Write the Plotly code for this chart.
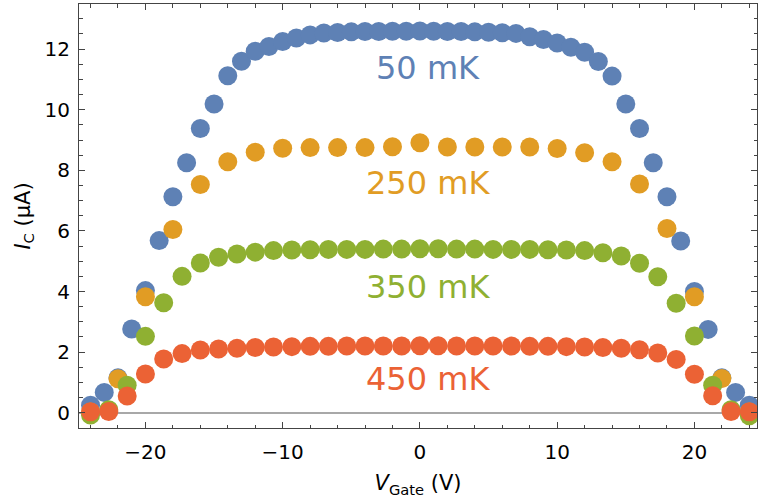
import plotly.graph_objects as go

# Gate-voltage sweeps of the critical current at four temperatures
v_50mk = [-24, -23, -22, -21, -20, -19, -18, -17, -16, -15, -14, -13, -12, -11, -10,
          -9, -8, -7, -6, -5, -4, -3, -2, -1, 0, 1, 2, 3, 4, 5, 6, 7, 8, 9, 10,
          11, 12, 13, 14, 15, 16, 17, 18, 19, 20, 21, 22, 23, 24]
ic_50mk = [0.25, 0.67, 1.15, 2.76, 4.03, 5.68, 7.13, 8.25, 9.38, 10.19, 11.12, 11.6,
           11.93, 12.09, 12.25, 12.37, 12.47, 12.53, 12.55, 12.57, 12.58, 12.58, 12.59,
           12.59, 12.6, 12.59, 12.58, 12.58, 12.57, 12.56, 12.54, 12.52, 12.41, 12.32,
           12.2, 12.06, 11.9, 11.59, 11.11, 10.19, 9.38, 8.25, 7.13, 5.67, 4.0, 2.75,
           1.15, 0.67, 0.25]

v_250mk = [-24, -22, -20, -18, -16, -14, -12, -10, -8, -6, -4, -2, 0,
           2, 4, 6, 8, 10, 12, 14, 16, 18, 20, 22, 24]
ic_250mk = [0.02, 1.12, 3.83, 6.05, 7.53, 8.28, 8.6, 8.73, 8.75, 8.75, 8.75, 8.78, 8.91,
            8.77, 8.77, 8.77, 8.77, 8.72, 8.58, 8.28, 7.55, 6.08, 3.83, 1.13, 0.02]

v_fine = [-24, -22.67, -21.33, -20, -18.67, -17.33, -16, -14.67, -13.33, -12, -10.67,
          -9.33, -8, -6.67, -5.33, -4, -2.67, -1.33, 0, 1.33, 2.67, 4, 5.33, 6.67, 8,
          9.33, 10.67, 12, 13.33, 14.67, 16, 17.33, 18.67, 20, 21.33, 22.67, 24]
ic_350mk = [-0.08, 0.1, 0.91, 2.52, 3.63, 4.5, 4.94, 5.13, 5.24, 5.3, 5.35, 5.37, 5.38,
            5.39, 5.39, 5.39, 5.4, 5.4, 5.41, 5.41, 5.4, 5.4, 5.39, 5.39, 5.39, 5.38,
            5.37, 5.35, 5.28, 5.17, 4.93, 4.49, 3.61, 2.53, 0.91, 0.1, -0.1]
ic_450mk = [0.03, 0.04, 0.55, 1.28, 1.77, 1.95, 2.07, 2.1, 2.13, 2.15, 2.17, 2.18, 2.19,
            2.19, 2.2, 2.2, 2.2, 2.2, 2.21, 2.21, 2.2, 2.2, 2.2, 2.2, 2.19, 2.19, 2.18,
            2.17, 2.15, 2.13, 2.08, 1.97, 1.76, 1.27, 0.56, 0.04, 0.03]

labels = ["50 mK", "250 mK", "350 mK", "450 mK"]
colors = ["#5E81B5", "#E19C24", "#8FB032", "#EB6235"]
label_x = [0.6, 0.6, 0.6, 0.6]
label_y = [11.37, 7.57, 4.16, 1.11]

series = [(v_50mk, ic_50mk), (v_250mk, ic_250mk), (v_fine, ic_350mk), (v_fine, ic_450mk)]

FONT = "DejaVu Sans"

fig = go.Figure()
for (xs, ys), name, col in zip(series, labels, colors):
    fig.add_trace(go.Scatter(
        x=xs, y=ys, mode="markers", name=name,
        marker=dict(size=19, color=col, line=dict(width=0)),
        showlegend=False,
    ))

for txt, col, lx, ly in zip(labels, colors, label_x, label_y):
    fig.add_annotation(x=lx, y=ly, text=txt, showarrow=False,
                       font=dict(family=FONT, size=32, color=col),
                       xanchor="center", yanchor="middle")

axis_common = dict(
    showline=True, linecolor="#444", linewidth=1, mirror="ticks",
    ticks="inside", ticklen=6, tickwidth=1, tickcolor="#444",
    showgrid=False,
    tickfont=dict(family=FONT, size=20, color="black"),
    title_font=dict(family=FONT, size=21, color="black"),
)

fig.update_xaxes(
    **axis_common,
    range=[-24.84, 24.56], tickmode="linear", tick0=0, dtick=10,
    minor=dict(ticks="inside", ticklen=3.5, tickcolor="#444", dtick=2, tick0=0, showgrid=False),
    zeroline=False,
    ticklabelstandoff=6,
    title=dict(text="<i>V</i><sub>Gate</sub> (V)", standoff=12),
)
fig.update_yaxes(
    **axis_common,
    range=[-0.505, 13.49], tickmode="linear", tick0=0, dtick=2,
    minor=dict(ticks="inside", ticklen=3.5, tickcolor="#444", dtick=0.5, tick0=0, showgrid=False),
    zeroline=True, zerolinecolor="#A8A8A8", zerolinewidth=1.5,
    ticklabelstandoff=4,
    title=dict(text="<i>I</i><sub>C</sub> (μA)", standoff=8),
)

fig.update_layout(
    width=758, height=502,
    margin=dict(l=79, r=1, t=4, b=74),
    plot_bgcolor="white", paper_bgcolor="white",
    font=dict(family=FONT),
)

fig.write_html("out.html")
